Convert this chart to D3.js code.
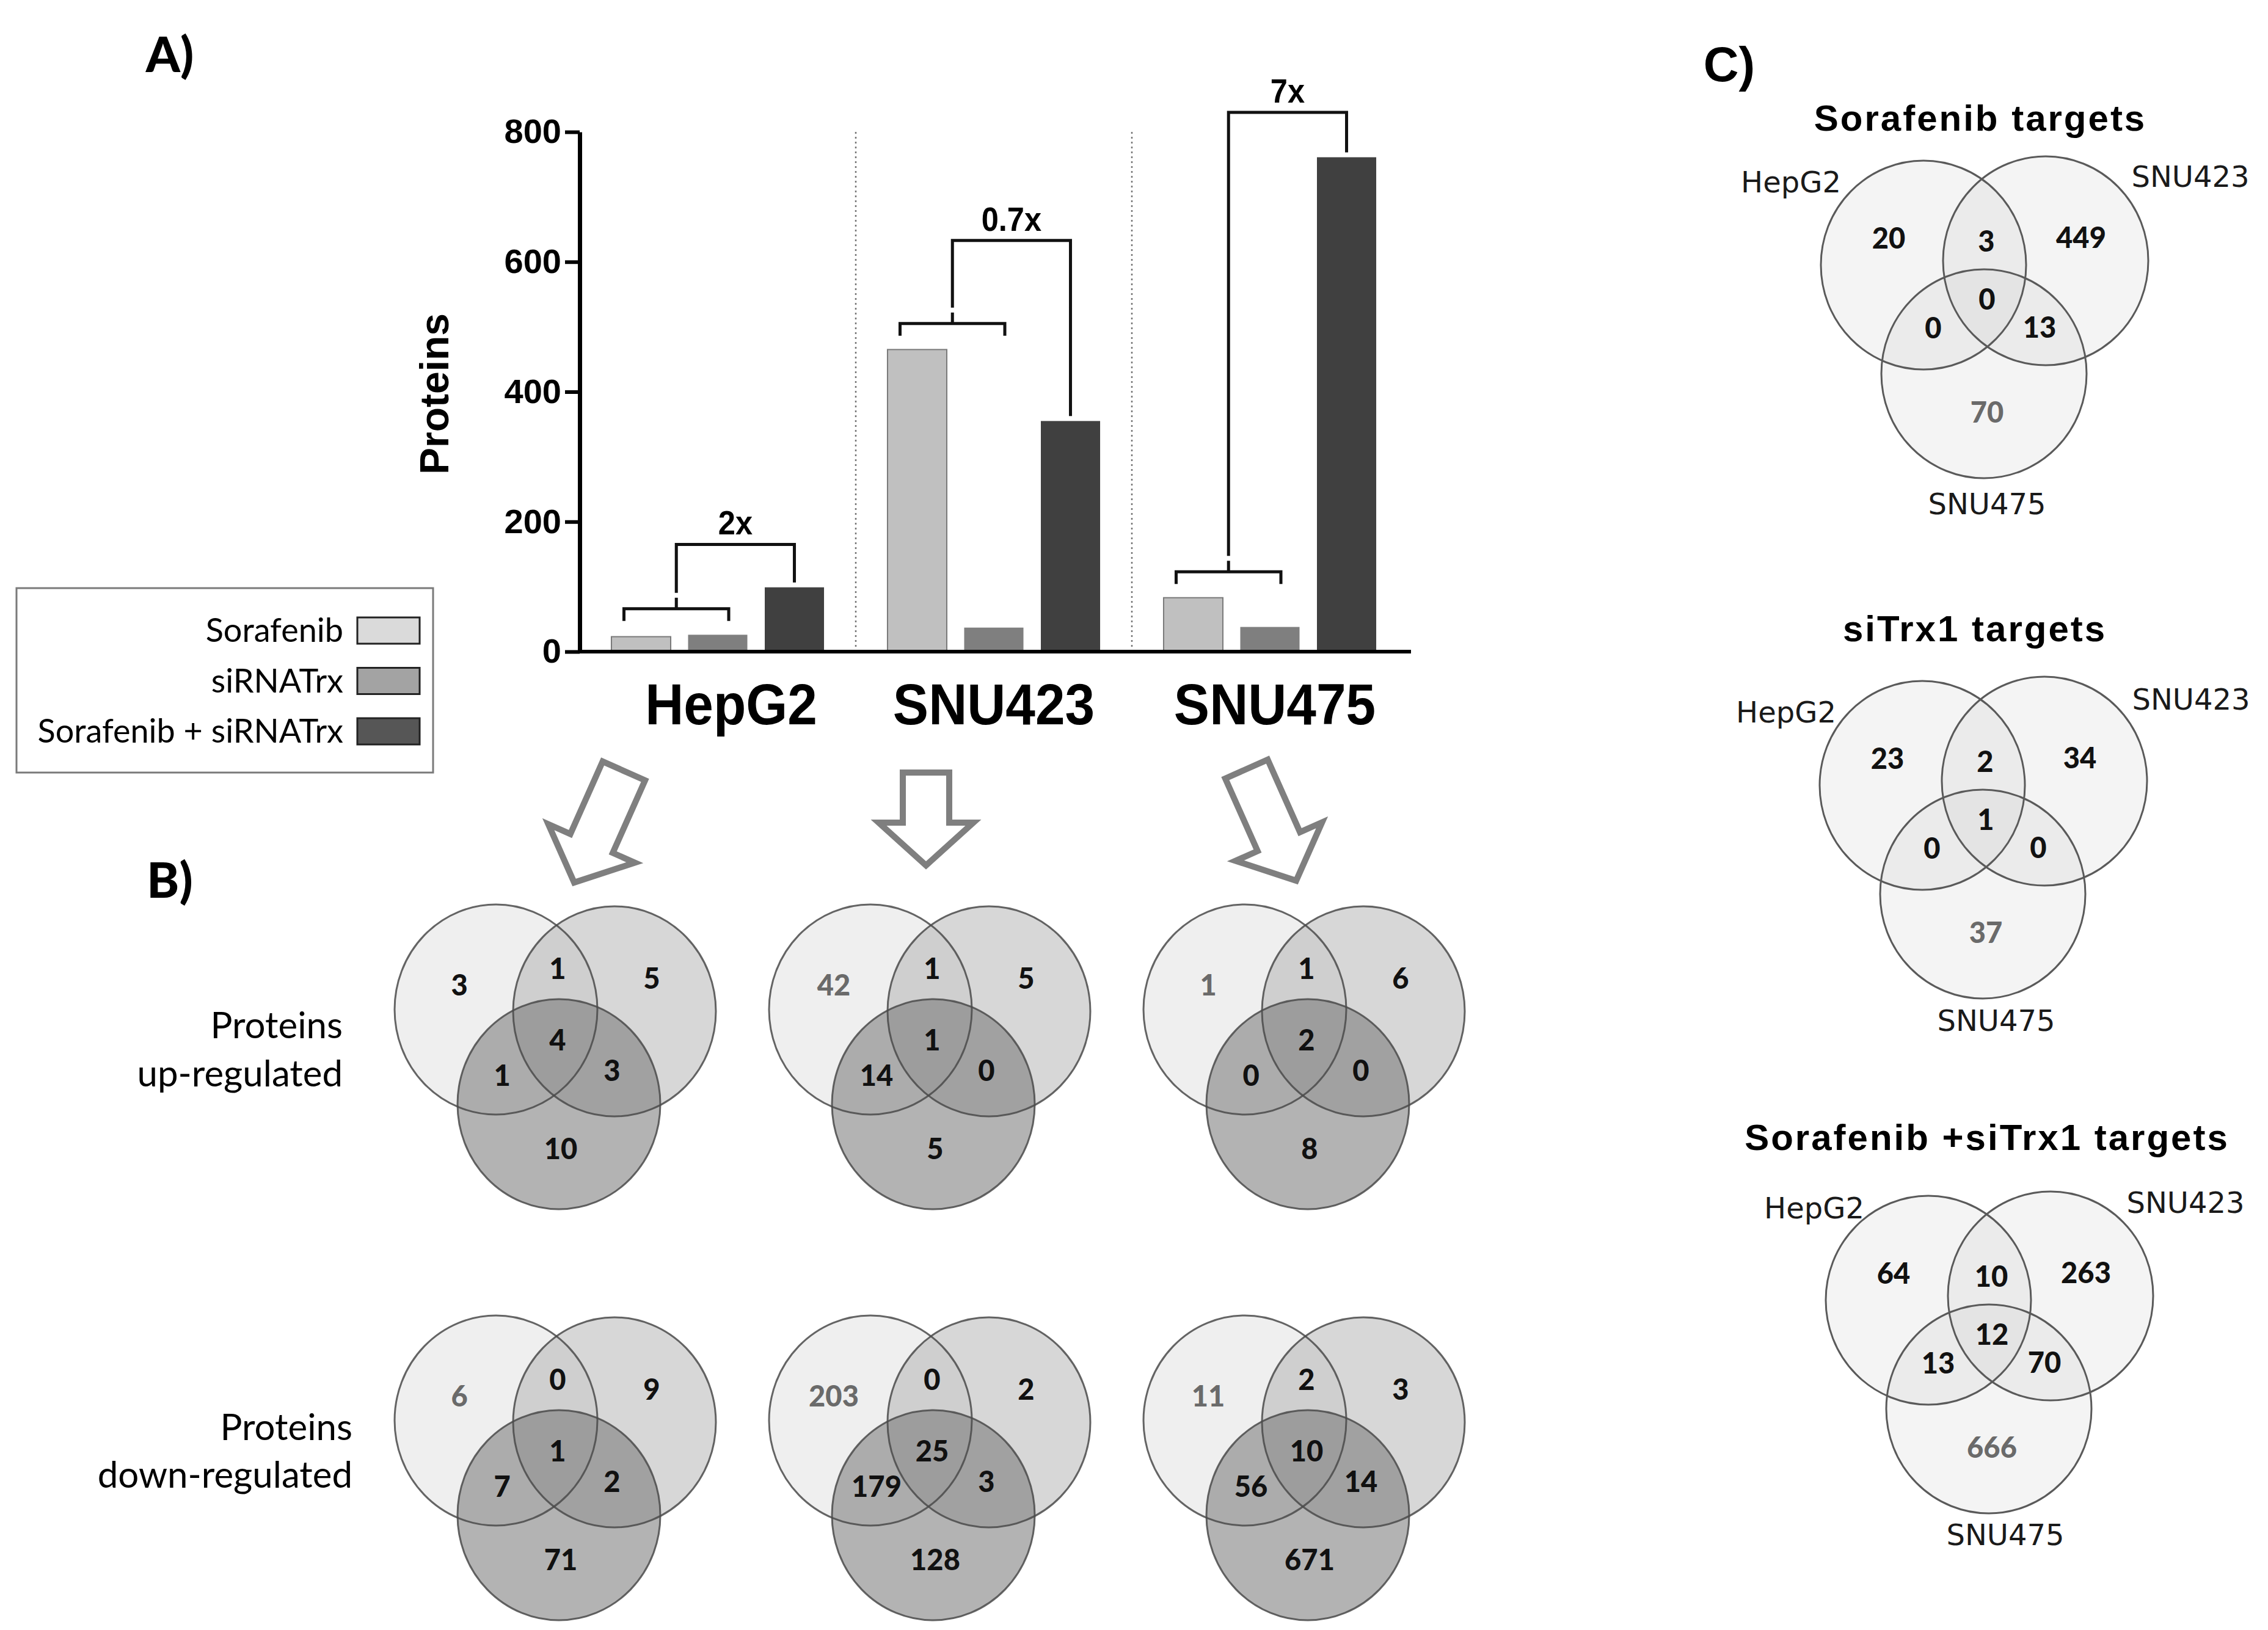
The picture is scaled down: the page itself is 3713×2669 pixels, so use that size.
<!DOCTYPE html>
<html>
<head>
<meta charset="utf-8">
<script src="https://cdn.jsdelivr.net/npm/d3@7"></script>
<style>
  body { margin: 0; background: #fff; }
  svg { display: block; }
</style>
</head>
<body>
<svg id="fig"></svg>
<script>
/* ---- data ---- */
const cellLines = ['HepG2', 'SNU423', 'SNU475']
const treatments = ['Sorafenib', 'siRNATrx', 'Sorafenib + siRNATrx']
const sorafenibCounts = [23, 465, 83]
const siRNATrxCounts = [26, 37, 38]
const comboCounts = [99, 355, 761]
const yTicks = [0, 200, 400, 600, 800]
const foldLabels = ['2x', '0.7x', '7x']
const foldLevels = [165, 633, 830]

/* venn regions in order: A only, AB, B only, ABC, AC, BC, C only */
const upRegulated = [
  [3, 1, 5, 4, 1, 3, 10],
  [42, 1, 5, 1, 14, 0, 5],
  [1, 1, 6, 2, 0, 0, 8]
]
const downRegulated = [
  [6, 0, 9, 1, 7, 2, 71],
  [203, 0, 2, 25, 179, 3, 128],
  [11, 2, 3, 10, 56, 14, 671]
]
const vennRowLabels = [['Proteins', 'up-regulated'], ['Proteins', 'down-regulated']]

const targetTitles = ['Sorafenib targets', 'siTrx1 targets', 'Sorafenib +siTrx1 targets']
const sorafenibTargets = [20, 3, 449, 0, 0, 13, 70]
const siTrx1Targets = [23, 2, 34, 1, 0, 0, 37]
const comboTargets = [64, 10, 263, 12, 13, 70, 666]

/* ---- fonts / colours ---- */
const ARIAL = '"Liberation Sans", Arial, sans-serif'
const CALIBRI = 'Lato, "Open Sans", sans-serif'
const VERDANA = '"DejaVu Sans", Verdana, sans-serif'
const barColors = ['#c0c0c0', '#7f7f7f', '#404040']
const swatchColors = ['#dadada', '#a3a3a3', '#565656']

const W = 3713, H = 2669
const svg = d3.select('#fig').attr('width', W).attr('height', H)
svg.append('rect').attr('width', W).attr('height', H).attr('fill', '#fff')

/* panel letters */
const panelLetters = [
  { t: 'A)', x: 278, y: 118, f: CALIBRI },
  { t: 'B)', x: 278, y: 1470, f: CALIBRI },
  { t: 'C)', x: 2831, y: 133, f: ARIAL }
]
svg.selectAll('text.panel')
  .data(panelLetters)
  .enter()
  .append('text')
  .attr('class', 'panel')
  .attr('x', d => d.x).attr('y', d => d.y)
  .attr('text-anchor', 'middle')
  .style('font-family', d => d.f)
  .style('font-weight', 900)
  .style('font-size', '80px')
  .text(d => d.t)

/* ---- A) bar chart ---- */
const x0 = d3.scaleBand().domain(cellLines).range([949, 2305])
const x1 = d3.scaleBand().domain(treatments).range([0, x0.bandwidth()])
  .paddingInner(0.227).paddingOuter(0.414)
const y = d3.scaleLinear().domain([0, 800]).range([1067, 216])

const rows = cellLines.map((c, i) => ({
  line: c,
  values: [sorafenibCounts[i], siRNATrxCounts[i], comboCounts[i]],
  fold: foldLabels[i],
  level: foldLevels[i]
}))

const gA = svg.append('g').attr('class', 'panel-a')

/* dotted separators between groups */
gA.selectAll('line.sep')
  .data(cellLines.slice(1))
  .enter()
  .append('line')
  .attr('class', 'sep')
  .attr('x1', d => x0(d)).attr('x2', d => x0(d))
  .attr('y1', y(800)).attr('y2', y(0))
  .attr('stroke', '#777').attr('stroke-width', 2.5)
  .attr('stroke-dasharray', '3,5')

/* bars */
const groups = gA.selectAll('g.grp')
  .data(rows)
  .enter()
  .append('g')
  .attr('class', 'grp')
  .attr('transform', d => `translate(${x0(d.line)},0)`)

groups.selectAll('rect')
  .data(d => d.values.map((v, j) => ({ key: treatments[j], v, j })))
  .enter()
  .append('rect')
  .attr('x', d => x1(d.key))
  .attr('width', x1.bandwidth())
  .attr('y', d => y(d.v))
  .attr('height', d => y(0) - y(d.v))
  .attr('fill', d => barColors[d.j])
  .attr('stroke', d => d.j === 0 ? '#7a7a7a' : 'none')
  .attr('stroke-width', 2)

/* brackets and fold change labels */
groups.each(function (d) {
  const g = d3.select(this)
  const bw = x1.bandwidth()
  const c1 = x1(treatments[0]) + bw / 2
  const c2 = x1(treatments[1]) + bw / 2
  const c3 = x1(treatments[2]) + bw / 2
  const left = c1 - 28, right = c2 + 18, mid = (left + right) / 2
  const ys = y(Math.max(d.values[0], d.values[1]) + 40)
  const yb = y(d.level)
  const stroke = { stroke: '#111', 'stroke-width': 5, fill: 'none' }
  const small = g.append('path')
    .attr('d', `M${left},${ys + 20}V${ys}H${right}V${ys + 20}M${mid},${ys}V${ys - 18}`)
  const big = g.append('path')
    .attr('d', `M${mid},${ys - 26}V${yb}H${c3}V${y(d.values[2]) - 8}`)
  ;[small, big].forEach(p => Object.entries(stroke).forEach(([k, v]) => p.attr(k, v)))
  g.append('text')
    .attr('transform', `translate(${(mid + c3) / 2},${yb - 16}) scale(0.92,1)`)
    .attr('text-anchor', 'middle')
    .style('font-family', ARIAL)
    .style('font-weight', 700)
    .style('font-size', '55px')
    .text(d.fold)
})

/* y axis */
const yAxis = d3.axisLeft(y).tickValues(yTicks).tickSize(24).tickSizeOuter(0).tickPadding(6)
const ya = gA.append('g')
  .attr('transform', 'translate(949,0)')
  .call(yAxis)
ya.select('.domain').attr('stroke', '#000').attr('stroke-width', 7)
ya.selectAll('.tick line').attr('stroke', '#000').attr('stroke-width', 6)
ya.selectAll('.tick text')
  .style('font-family', ARIAL)
  .style('font-weight', 700)
  .style('font-size', '56px')
  .attr('fill', '#000')

/* baseline (x axis) */
gA.append('line')
  .attr('x1', 946).attr('x2', 2310)
  .attr('y1', y(0)).attr('y2', y(0))
  .attr('stroke', '#000').attr('stroke-width', 6)

/* group labels (slightly condensed, as in the original) */
const groupLabelShift = [22, 0, 8]
gA.selectAll('text.grp-lab')
  .data(cellLines)
  .enter()
  .append('text')
  .attr('class', 'grp-lab')
  .attr('transform', (d, i) =>
    `translate(${x0(d) + x0.bandwidth() / 2 + groupLabelShift[i]},1186) scale(0.92,1)`)
  .attr('text-anchor', 'middle')
  .style('font-family', ARIAL)
  .style('font-weight', 700)
  .style('font-size', '95px')
  .text(d => d)

/* y axis title */
gA.append('text')
  .attr('transform', 'translate(734,645) rotate(-90)')
  .attr('text-anchor', 'middle')
  .style('font-family', ARIAL)
  .style('font-weight', 700)
  .style('font-size', '66px')
  .text('Proteins')

/* legend */
const leg = svg.append('g').attr('class', 'legend')
leg.append('rect')
  .attr('x', 27).attr('y', 963).attr('width', 682).attr('height', 302)
  .attr('fill', '#fff').attr('stroke', '#7a7a7a').attr('stroke-width', 3)
const legItems = leg.selectAll('g.item')
  .data(treatments)
  .enter()
  .append('g')
  .attr('class', 'item')
  .attr('transform', (d, i) => `translate(0,${1032 + i * 82.5})`)
legItems.append('rect')
  .attr('x', 585).attr('y', -21).attr('width', 102).attr('height', 43)
  .attr('fill', (d, i) => swatchColors[i])
  .attr('stroke', '#222').attr('stroke-width', 3)
legItems.append('text')
  .attr('x', 562).attr('y', 19)
  .attr('text-anchor', 'end')
  .style('font-family', CALIBRI)
  .style('font-size', '54px')
  .text(d => d)

/* ---- arrows from A to B ---- */
const arrows = [
  { tip: [940, 1445], angle: 24, len: 200 },
  { tip: [1516, 1417], angle: 0, len: 152 },
  { tip: [2122, 1442], angle: -24, len: 200 }
]
const sw = 76, hw = 155, hl = 70
svg.selectAll('path.arrow')
  .data(arrows)
  .enter()
  .append('path')
  .attr('class', 'arrow')
  .attr('d', d => `M${-sw / 2},${-d.len}H${sw / 2}V${-hl}H${hw / 2}L0,0L${-hw / 2},${-hl}H${-sw / 2}Z`)
  .attr('transform', d => `translate(${d.tip[0]},${d.tip[1]}) rotate(${d.angle})`)
  .attr('fill', '#fff')
  .attr('stroke', '#7f7f7f')
  .attr('stroke-width', 10)
  .attr('stroke-linejoin', 'miter')

/* ---- venn helpers ---- */
const regionOffsetsB = [[-60, -40], [101, -67], [255, -51], [101, 50], [10, 108], [190, 100], [106, 228]]
const circleOffsetsB = [[0, 0], [194, 3], [103, 155]]
const fillsB = [
  { fill: '#e0e0e0', op: 0.5 },
  { fill: '#b0b0b0', op: 0.5 },
  { fill: '#747474', op: 0.55 }
]

function drawVennB(parent, L, values, muteA) {
  const g = parent.append('g').attr('transform', `translate(${L[0]},${L[1]})`)
  g.selectAll('ellipse.fill')
    .data(circleOffsetsB)
    .enter()
    .append('ellipse')
    .attr('class', 'fill')
    .attr('cx', d => d[0]).attr('cy', d => d[1])
    .attr('rx', 166).attr('ry', 172)
    .attr('fill', (d, i) => fillsB[i].fill)
    .attr('fill-opacity', (d, i) => fillsB[i].op)
  g.selectAll('ellipse.edge')
    .data(circleOffsetsB)
    .enter()
    .append('ellipse')
    .attr('class', 'edge')
    .attr('cx', d => d[0]).attr('cy', d => d[1])
    .attr('rx', 166).attr('ry', 172)
    .attr('fill', 'none')
    .attr('stroke', '#4a4a4a').attr('stroke-opacity', 0.85)
    .attr('stroke-width', 3)
  g.selectAll('text')
    .data(values)
    .enter()
    .append('text')
    .attr('x', (d, i) => regionOffsetsB[i][0])
    .attr('y', (d, i) => regionOffsetsB[i][1])
    .attr('dy', '0.36em')
    .attr('text-anchor', 'middle')
    .attr('fill', (d, i) => (i === 0 && muteA) ? '#6a6a6a' : '#111')
    .style('font-family', CALIBRI)
    .style('font-weight', 900)
    .style('font-size', '47px')
    .text(d => d)
}

/* ---- B) venns ---- */
const colX = [812, 1425, 2038]
const rowY = [1653, 2326]
const mutedSoloSorafenib = [[false, true, true], [true, true, true]]
const gB = svg.append('g').attr('class', 'panel-b')
;[upRegulated, downRegulated].forEach((set, r) => {
  set.forEach((vals, c) => drawVennB(gB, [colX[c], rowY[r]], vals, mutedSoloSorafenib[r][c]))
})

const rowLabelPos = [{ x: 561, y: [1700, 1779] }, { x: 577, y: [2358, 2436] }]
vennRowLabels.forEach((lines, r) => {
  gB.selectAll(null)
    .data(lines)
    .enter()
    .append('text')
    .attr('x', rowLabelPos[r].x)
    .attr('y', (d, i) => rowLabelPos[r].y[i])
    .attr('text-anchor', 'end')
    .style('font-family', CALIBRI)
    .style('font-size', '60px')
    .text(d => d)
})

/* ---- C) venns ---- */
const regionOffsetsC = [[-57, -44], [103, -39], [258, -45], [104, 56], [16, 103], [190, 102], [104, 241]]
const circleOffsetsC = [[0, 0], [200, -7], [99, 178]]
const setNames = ['HepG2', 'SNU423', 'SNU475']
const vennC = [
  { values: sorafenibTargets, L: [3149, 434], title: [93, -242], labels: [[-217, -136], [437, -145], [104, 391]] },
  { values: siTrx1Targets, L: [3147, 1286], title: [86, -258], labels: [[-223, -120], [440, -141], [121, 385]] },
  { values: comboTargets, L: [3157, 2129], title: [96, -268], labels: [[-187, -151], [421, -160], [126, 384]] }
]
const gC = svg.append('g').attr('class', 'panel-c')
vennC.forEach((v, k) => {
  const g = gC.append('g').attr('transform', `translate(${v.L[0]},${v.L[1]})`)
  g.selectAll('ellipse.fill')
    .data(circleOffsetsC)
    .enter()
    .append('ellipse')
    .attr('class', 'fill')
    .attr('cx', d => d[0]).attr('cy', d => d[1])
    .attr('rx', 168).attr('ry', 171)
    .attr('fill', '#c8c8c8').attr('fill-opacity', 0.2)
  g.selectAll('ellipse.edge')
    .data(circleOffsetsC)
    .enter()
    .append('ellipse')
    .attr('class', 'edge')
    .attr('cx', d => d[0]).attr('cy', d => d[1])
    .attr('rx', 168).attr('ry', 171)
    .attr('fill', 'none')
    .attr('stroke', '#5a5a5a').attr('stroke-width', 3)
  g.selectAll('text.num')
    .data(v.values)
    .enter()
    .append('text')
    .attr('class', 'num')
    .attr('x', (d, i) => regionOffsetsC[i][0])
    .attr('y', (d, i) => regionOffsetsC[i][1])
    .attr('dy', '0.36em')
    .attr('text-anchor', 'middle')
    .attr('fill', (d, i) => i === 6 ? '#6a6a6a' : '#111')
    .style('font-family', CALIBRI)
    .style('font-weight', 900)
    .style('font-size', '47px')
    .text(d => d)
  g.selectAll('text.set')
    .data(setNames)
    .enter()
    .append('text')
    .attr('class', 'set')
    .attr('x', (d, i) => v.labels[i][0])
    .attr('y', (d, i) => v.labels[i][1])
    .attr('dy', '0.36em')
    .attr('text-anchor', 'middle')
    .attr('fill', '#1a1a1a')
    .style('font-family', VERDANA)
    .style('font-size', '48px')
    .text(d => d)
  g.append('text')
    .attr('x', v.title[0]).attr('y', v.title[1])
    .attr('dy', '0.36em')
    .attr('text-anchor', 'middle')
    .style('font-family', ARIAL)
    .style('font-weight', 700)
    .style('font-size', '60px')
    .style('letter-spacing', '3px')
    .text(targetTitles[k])
})
</script>
</body>
</html>
